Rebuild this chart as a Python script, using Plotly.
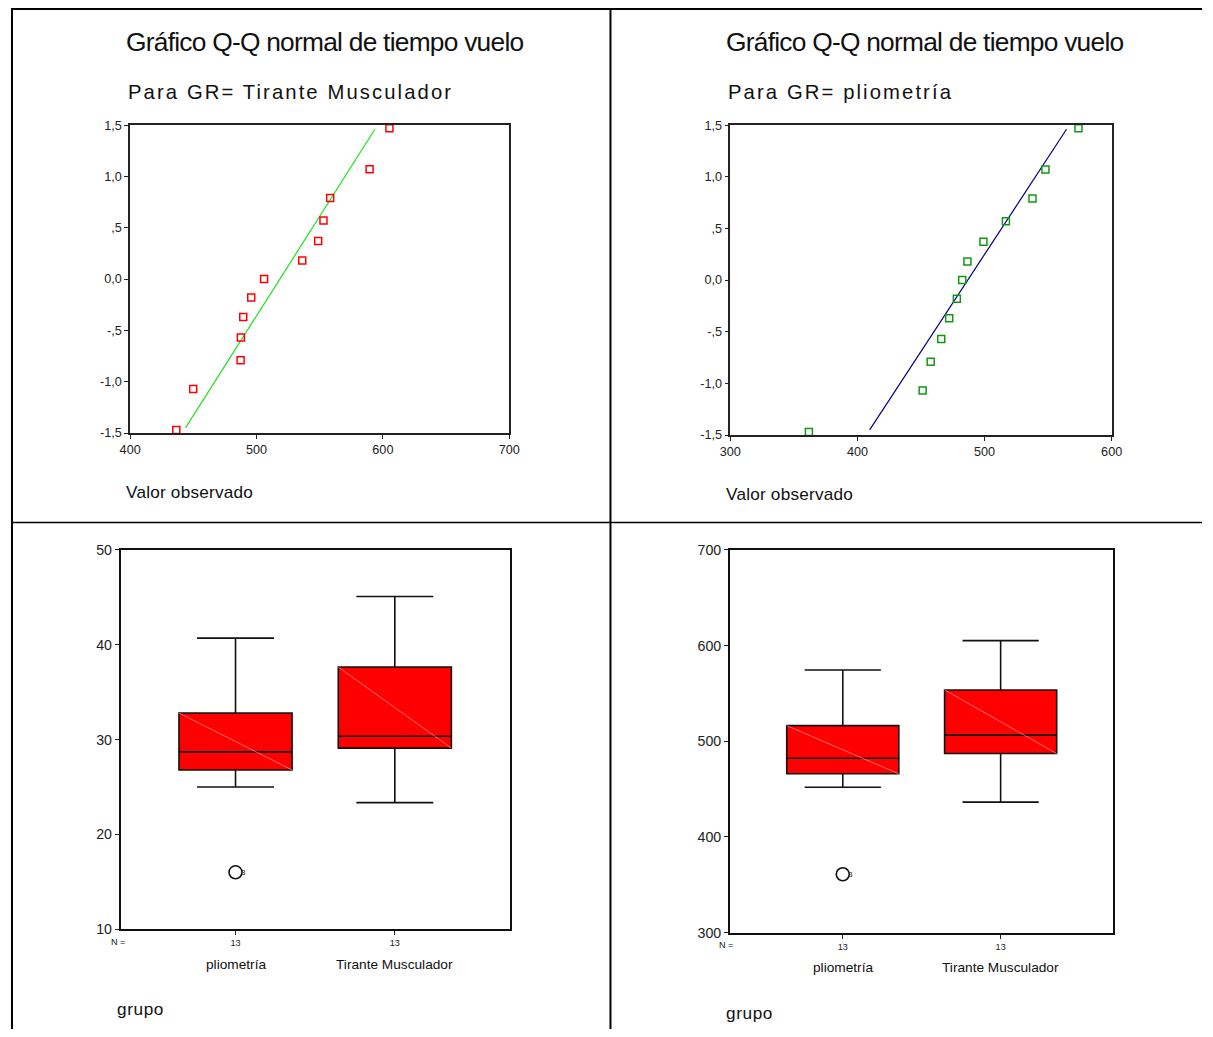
import plotly.graph_objects as go

# Figure size; the viewer shows the page with an 8px body margin and a slight downscale,
# so target pixel positions are mapped through that before being turned into paper units.
W, H = 1213, 1037
PAD = 8
SX = (W + 2 * PAD) / W
SY = (H + 2 * PAD) / H
FS = SX  # font-size compensation

# ---------------- data ----------------
# Q-Q plot: Tirante Musculador (observed value, expected normal)
tm_obs = [436.5, 449.9, 487.4, 487.6, 489.5, 495.8, 506.0, 536.2, 548.8, 553.0, 558.3, 589.5, 605.2]
tm_exp = [-1.47, -1.07, -0.79, -0.57, -0.37, -0.18, 0.0, 0.18, 0.37, 0.57, 0.79, 1.07, 1.47]
tm_line_x = [443.8, 593.7]
tm_line_y = [-1.45, 1.46]

# Q-Q plot: pliometría
pl_obs = [361.8, 451.3, 457.6, 465.9, 472.2, 478.2, 482.4, 486.5, 499.1, 516.8, 537.7, 547.9, 573.9]
pl_exp = [-1.47, -1.07, -0.79, -0.57, -0.37, -0.18, 0.0, 0.18, 0.37, 0.57, 0.79, 1.07, 1.47]
pl_line_x = [409.6, 564.5]
pl_line_y = [-1.45, 1.46]

qq_ytick_vals = [-1.5, -1.0, -0.5, 0.0, 0.5, 1.0, 1.5]
qq_ytick_text = ["-1,5", "-1,0", "-,5", "0,0", ",5", "1,0", "1,5"]

# Box plots
groups = ["pliometría", "Tirante Musculador"]
n_counts = ["13", "13"]

b1_low = [25.0, 23.35]
b1_q1 = [26.8, 29.1]
b1_med = [28.7, 30.35]
b1_q3 = [32.8, 37.65]
b1_high = [40.7, 45.1]
b1_outlier_y = [16.0]
b1_outlier_x = [0]
b1_outlier_lbl = ["3"]

b2_low = [452.0, 436.4]
b2_q1 = [466.0, 487.2]
b2_med = [482.3, 506.4]
b2_q3 = [516.4, 553.7]
b2_high = [574.6, 605.2]
b2_outlier_y = [361.0]
b2_outlier_x = [0]
b2_outlier_lbl = ["3"]

BOX_W = 0.71

# ---------------- helpers ----------------
def px_x(p):
    return (p * SX - PAD) / W

def px_y(p):
    return 1 - (p * SY - PAD) / H

def fs(s):
    return round(s * FS, 2)

fig = go.Figure()

# QQ traces
fig.add_trace(go.Scatter(x=tm_line_x, y=tm_line_y, mode="lines",
                         line=dict(color="#1ee01e", width=1.2),
                         xaxis="x", yaxis="y", showlegend=False, hoverinfo="skip"))
fig.add_trace(go.Scatter(x=tm_obs, y=tm_exp, mode="markers",
                         marker=dict(symbol="square-open", size=7, color="#ff0000",
                                     line=dict(width=1.5, color="#ff0000")),
                         xaxis="x", yaxis="y", showlegend=False))

fig.add_trace(go.Scatter(x=pl_line_x, y=pl_line_y, mode="lines",
                         line=dict(color="#000080", width=1.2),
                         xaxis="x2", yaxis="y2", showlegend=False, hoverinfo="skip"))
fig.add_trace(go.Scatter(x=pl_obs, y=pl_exp, mode="markers",
                         marker=dict(symbol="square-open", size=7, color="#119911",
                                     line=dict(width=1.5, color="#119911")),
                         xaxis="x2", yaxis="y2", showlegend=False))

FONT = "Liberation Sans, Arial, sans-serif"

# Box plots
def add_box(xa, ya, low, q1, med, q3, high, ox, oy, olbl):
    pos = list(range(len(groups)))
    fig.add_trace(go.Box(x=pos, lowerfence=low, q1=q1, median=med, q3=q3, upperfence=high,
                         width=BOX_W, whiskerwidth=0.68, fillcolor="#ff0000",
                         line=dict(color="#111111", width=1.6), boxpoints=False,
                         xaxis=xa, yaxis=ya, showlegend=False))
    for i in pos:
        fig.add_trace(go.Scatter(x=[i - BOX_W / 2, i + BOX_W / 2], y=[q3[i], q1[i]], mode="lines",
                                 line=dict(color="rgba(255,170,170,0.9)", width=0.7),
                                 xaxis=xa, yaxis=ya, showlegend=False, hoverinfo="skip"))
    fig.add_trace(go.Scatter(x=ox, y=oy, mode="markers",
                             marker=dict(symbol="circle-open", size=13, color="#111",
                                         line=dict(width=1.6, color="#111")),
                             xaxis=xa, yaxis=ya, showlegend=False))
    for xv, yv, t in zip(ox, oy, olbl):
        fig.add_annotation(text=t, x=xv, y=yv, xref=xa, yref=ya, showarrow=False,
                           xanchor="left", yanchor="middle", xshift=3,
                           font=dict(family=FONT, size=fs(8), color="#222"))

add_box("x3", "y3", b1_low, b1_q1, b1_med, b1_q3, b1_high, b1_outlier_x, b1_outlier_y, b1_outlier_lbl)
add_box("x4", "y4", b2_low, b2_q1, b2_med, b2_q3, b2_high, b2_outlier_x, b2_outlier_y, b2_outlier_lbl)

tickfont = dict(family=FONT, size=fs(12.5), color="#222")

axis_common = dict(showgrid=False, zeroline=False, showline=True, mirror=True,
                   linecolor="#222", linewidth=1.5, ticks="outside", ticklen=4,
                   tickcolor="#222", tickwidth=1, tickfont=tickfont, fixedrange=True)

box_axis = {**axis_common, "linewidth": 2, "linecolor": "#111"}

layout = dict(
    width=W, height=H, margin=dict(l=0, r=0, t=0, b=0),
    paper_bgcolor="white", plot_bgcolor="white", showlegend=False,
    xaxis=dict(domain=[px_x(127.7), px_x(508.7)], range=[400, 700],
               tickvals=[400, 500, 600, 700], anchor="y", **axis_common),
    yaxis=dict(domain=[px_y(433), px_y(125)], range=[-1.5, 1.5],
               tickvals=qq_ytick_vals, ticktext=qq_ytick_text, anchor="x", **axis_common),
    xaxis2=dict(domain=[px_x(731), px_x(1114.3)], range=[300, 600],
                tickvals=[300, 400, 500, 600], anchor="y2", **axis_common),
    yaxis2=dict(domain=[px_y(435), px_y(125)], range=[-1.5, 1.5],
                tickvals=qq_ytick_vals, ticktext=qq_ytick_text, anchor="x2", **axis_common),
    xaxis3=dict(domain=[px_x(118.3), px_x(509)], range=[-0.72, 1.72],
                tickvals=[0, 1], ticktext=n_counts, anchor="y3",
                **{**box_axis, "tickfont": dict(family=FONT, size=fs(9), color="#222")}),
    yaxis3=dict(domain=[px_y(929.3), px_y(550)], range=[10, 50],
                tickvals=[10, 20, 30, 40, 50], anchor="x3",
                **{**box_axis, "tickfont": dict(family=FONT, size=fs(14), color="#222")}),
    xaxis4=dict(domain=[px_x(730.7), px_x(1116)], range=[-0.714, 1.714],
                tickvals=[0, 1], ticktext=n_counts, anchor="y4",
                **{**box_axis, "tickfont": dict(family=FONT, size=fs(9), color="#222")}),
    yaxis4=dict(domain=[px_y(932.7), px_y(550)], range=[300, 700],
                tickvals=[300, 400, 500, 600, 700], anchor="x4",
                **{**box_axis, "tickfont": dict(family=FONT, size=fs(14), color="#222")}),
)
fig.update_layout(**layout)

# ---------------- table borders ----------------
def hline(fy, fx0, fx1, w):
    fig.add_shape(type="line", xref="paper", yref="paper", x0=fx0, x1=fx1,
                  y0=fy, y1=fy, line=dict(color="black", width=w))

def vline(fx, fy0, fy1, w):
    fig.add_shape(type="line", xref="paper", yref="paper", x0=fx, x1=fx,
                  y0=fy0, y1=fy1, line=dict(color="black", width=w))

top_y = 1 - 1.0 / H
left_x = 1.0 / W
hline(top_y, 0, 1, 2)
vline(left_x, 0, top_y, 2)
vline(px_x(610.5), 0, top_y, 2)
hline(px_y(522.5), 0, 1, 1.5)

# ---------------- text ----------------
def note(text, x, y, size, xanchor="left", color="#111"):
    fig.add_annotation(text=text, x=px_x(x), y=px_y(y), xref="paper", yref="paper",
                       showarrow=False, xanchor=xanchor, yanchor="middle",
                       font=dict(family=FONT, size=fs(size), color=color))

title_txt = '<span style="letter-spacing:-0.75px">Gráfico Q-Q normal de tiempo vuelo</span>'
note(title_txt, 121, 42, 26)
note(title_txt, 725, 42, 26)
note('<span style="letter-spacing:2.1px">Para GR= Tirante Musculador</span>', 123, 92, 20)
note('<span style="letter-spacing:2.1px">Para GR= pliometría</span>', 727, 92, 20)
note('<span style="letter-spacing:0.2px">Valor observado</span>', 121, 492, 17)
note('<span style="letter-spacing:0.2px">Valor observado</span>', 725, 494, 17)

# box plot category labels
for xa, yy, gy, nx, gx in [("x3", 965, 1009, 106, 112), ("x4", 968, 1013, 718, 725)]:
    for i, g in enumerate(groups):
        fig.add_annotation(text=g, x=i, y=px_y(yy), xref=xa, yref="paper", showarrow=False,
                           xanchor="center", yanchor="middle",
                           font=dict(family=FONT, size=fs(13.5), color="#111"))
    note("N =", nx, 942 if xa == "x3" else 945, 9)
    note('<span style="letter-spacing:0.6px">grupo</span>', gx, gy, 17)

fig.write_html("out.html")
